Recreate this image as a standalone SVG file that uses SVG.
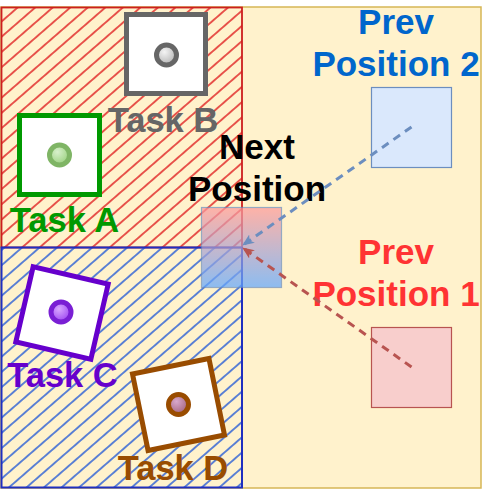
<svg xmlns="http://www.w3.org/2000/svg" width="482" height="489" viewBox="0 0 482 489">
  <defs>
    <style>
      .lbl { font-family: "Liberation Sans", Arial, sans-serif; font-weight: bold; font-size: 35px; text-anchor: middle; }
      .task { font-size: 34.5px; }
      .box { fill: #ffffff; stroke-width: 5; }
    </style>
    <pattern id="hatchRed" patternUnits="userSpaceOnUse" width="11.5" height="11.5" patternTransform="rotate(-41)">
      <line x1="0" y1="5.75" x2="11.5" y2="5.75" stroke="#e02424" stroke-width="1.5"/>
    </pattern>
    <pattern id="hatchBlue" patternUnits="userSpaceOnUse" width="11.5" height="11.5" patternTransform="rotate(-41)">
      <line x1="0" y1="5.75" x2="11.5" y2="5.75" stroke="#2a5fd6" stroke-width="1.5"/>
    </pattern>
    <linearGradient id="nextGrad" x1="0" y1="0" x2="0" y2="1">
      <stop offset="0" stop-color="#ff9a9a"/>
      <stop offset="1" stop-color="#62a8ff"/>
    </linearGradient>
    <radialGradient id="gGray" cx="0.4" cy="0.35" r="0.7">
      <stop offset="0" stop-color="#f4f4f4"/>
      <stop offset="1" stop-color="#b0b0b0"/>
    </radialGradient>
    <radialGradient id="gGreen" cx="0.4" cy="0.35" r="0.7">
      <stop offset="0" stop-color="#d8f0cc"/>
      <stop offset="1" stop-color="#97cf7a"/>
    </radialGradient>
    <radialGradient id="gPurple" cx="0.4" cy="0.35" r="0.7">
      <stop offset="0" stop-color="#d9a8ff"/>
      <stop offset="1" stop-color="#9a40f0"/>
    </radialGradient>
    <radialGradient id="gBrown" cx="0.4" cy="0.35" r="0.7">
      <stop offset="0" stop-color="#d8a8cc"/>
      <stop offset="1" stop-color="#a0607a"/>
    </radialGradient>
    <marker id="arrBlue" viewBox="0 0 12 10" refX="11" refY="5" markerWidth="12" markerHeight="10" markerUnits="userSpaceOnUse" orient="auto">
      <path d="M0,0 L12,5 L0,10 L3,5 z" fill="#6c8ebf"/>
    </marker>
    <marker id="arrRed" viewBox="0 0 12 10" refX="11" refY="5" markerWidth="12" markerHeight="10" markerUnits="userSpaceOnUse" orient="auto">
      <path d="M0,0 L12,5 L0,10 L3,5 z" fill="#b85450"/>
    </marker>
  </defs>

  <g id="background">
    <rect x="1" y="7" width="480" height="481" fill="#fff2cc" stroke="#d6b656" stroke-width="1.5"/>
  </g>

  <g id="region-red">
    <rect x="1.5" y="7.5" width="240.5" height="240" fill="url(#hatchRed)" stroke="#cc1f1f" stroke-width="1.8"/>
  </g>
  <g id="region-blue">
    <rect x="1.5" y="247.5" width="240.5" height="240" fill="url(#hatchBlue)" stroke="#1f2fc0" stroke-width="2"/>
  </g>

  <g id="task-b">
    <rect class="box" x="126.5" y="14.5" width="79" height="79" stroke="#666666"/>
    <circle cx="166.5" cy="55" r="10" fill="url(#gGray)" stroke="#666666" stroke-width="5"/>
    <text class="lbl task" x="163" y="132" fill="#666666">Task B</text>
  </g>

  <g id="task-a">
    <rect class="box" x="19.5" y="115.5" width="80" height="79" stroke="#009900"/>
    <circle cx="59.5" cy="155" r="10" fill="url(#gGreen)" stroke="#7fb565" stroke-width="5"/>
    <text class="lbl task" x="64.5" y="232" fill="#009900">Task A</text>
  </g>

  <g id="task-c">
    <rect class="box" x="-38.5" y="-38.5" width="77" height="77" stroke="#6600cc" transform="translate(62,313) rotate(13)"/>
    <circle cx="61" cy="312" r="10" fill="url(#gPurple)" stroke="#7a1fd4" stroke-width="5"/>
    <text class="lbl task" x="62.5" y="387" fill="#6600cc">Task C</text>
  </g>

  <g id="task-d">
    <rect class="box" x="-39" y="-39" width="78" height="78" stroke="#994c00" transform="translate(178.5,404.5) rotate(-11.5)"/>
    <circle cx="178.5" cy="404.5" r="10" fill="url(#gBrown)" stroke="#994c00" stroke-width="5"/>
    <text class="lbl task" x="173" y="480" fill="#994c00">Task D</text>
  </g>

  <g id="next-position">
    <rect x="201.5" y="207.5" width="80" height="80" fill="url(#nextGrad)" stroke="#6c8ebf" stroke-width="1.2" opacity="0.72"/>
    <text class="lbl" x="257" y="159" fill="#000000">Next</text>
    <text class="lbl" x="257" y="201" fill="#000000">Position</text>
  </g>

  <g id="prev-position-2">
    <rect x="371.5" y="87.5" width="80" height="80" fill="#dae8fc" stroke="#6c8ebf" stroke-width="1.2"/>
    <text class="lbl" x="396" y="34" fill="#0066cc">Prev</text>
    <text class="lbl" x="396" y="76" fill="#0066cc">Position 2</text>
  </g>

  <g id="prev-position-1">
    <rect x="371.5" y="327.5" width="80" height="80" fill="#f8cecc" stroke="#b85450" stroke-width="1.2"/>
    <text class="lbl" x="396" y="264" fill="#ff3333">Prev</text>
    <text class="lbl" x="396" y="306" fill="#ff3333">Position 1</text>
  </g>

  <g id="connectors">
    <line x1="411.5" y1="127" x2="243" y2="245" stroke="#6c8ebf" stroke-width="3" stroke-dasharray="8 6" marker-end="url(#arrBlue)"/>
    <line x1="411.5" y1="367" x2="243" y2="248" stroke="#b85450" stroke-width="3" stroke-dasharray="8 6" marker-end="url(#arrRed)"/>
  </g>
</svg>
